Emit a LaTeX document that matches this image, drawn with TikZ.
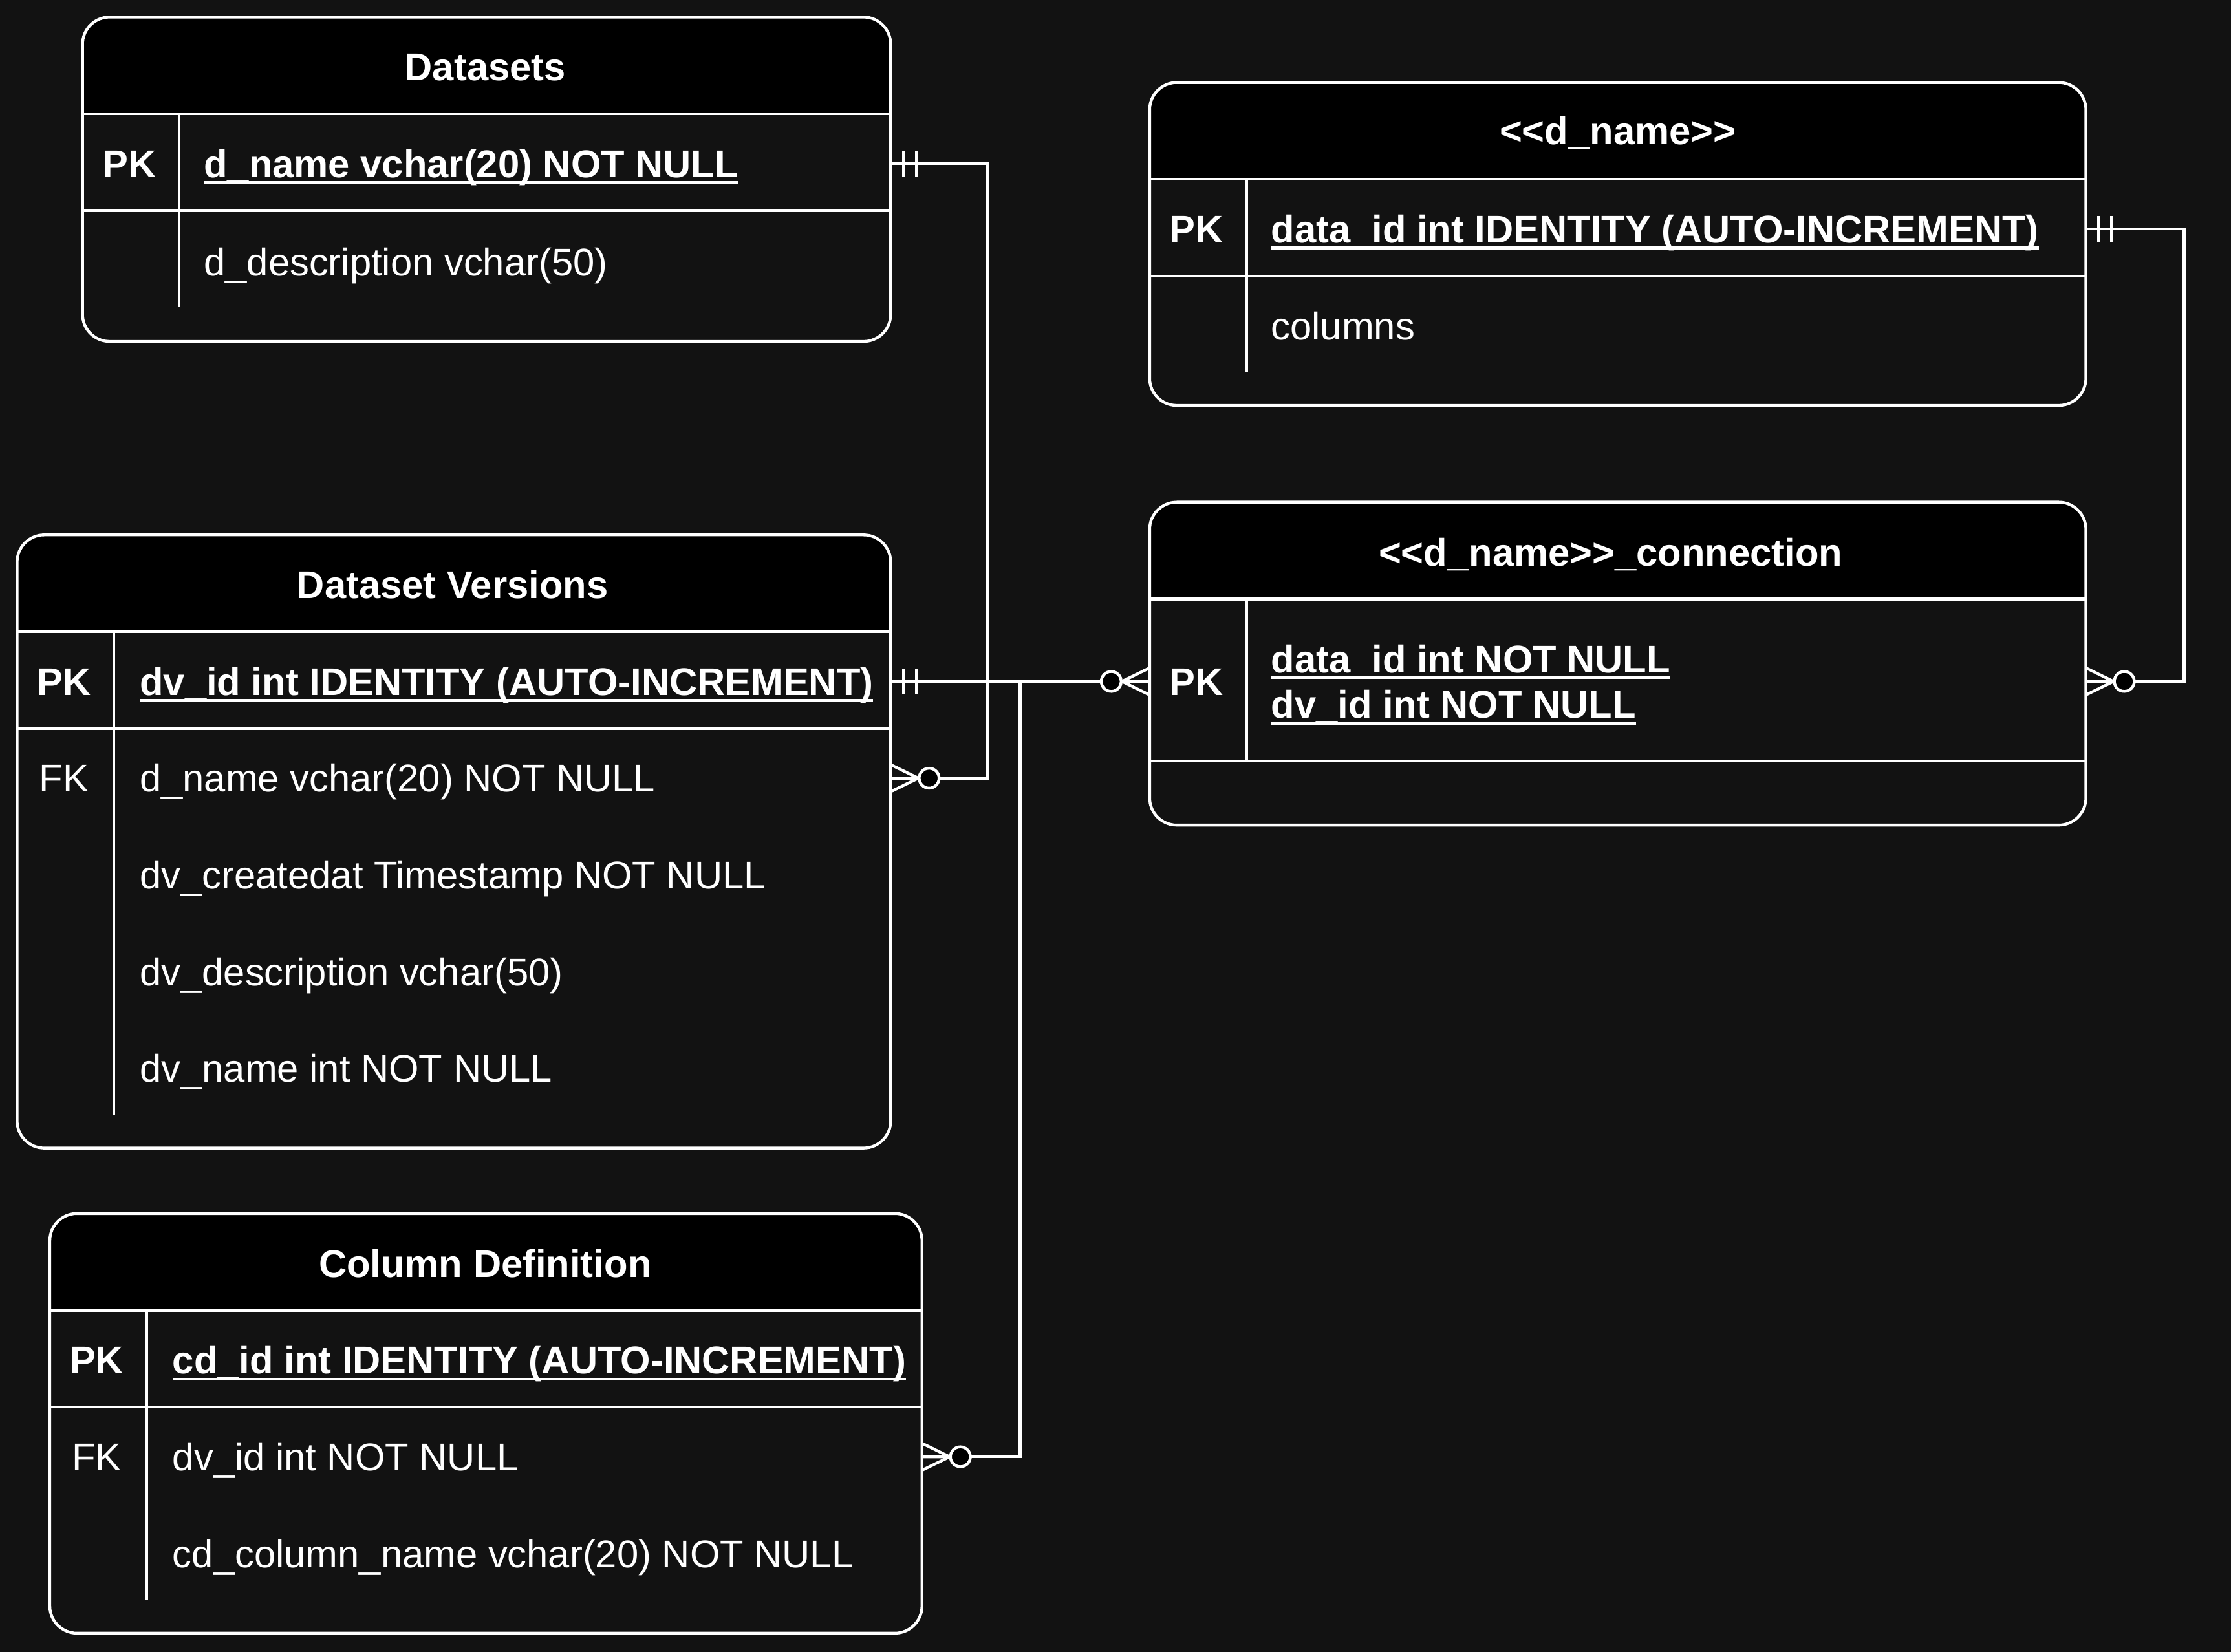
\documentclass[tikz,border=0pt]{standalone}
\usepackage{fontspec}
\setmainfont{Liberation Sans}
\usetikzlibrary{fit}

\definecolor{canvas}{RGB}{18,18,18}

% Schriftgroesse fuer alle Texte
\newcommand{\erfont}{\fontsize{17}{20}\selectfont}

% unterstrichener Schluessel (ganze Breite)
\newlength\ulwidth
\newcommand{\keyfield}[1]{%
  \settowidth{\ulwidth}{#1}%
  \rlap{\rule[-0.17em]{\ulwidth}{0.075em}}#1}

\tikzset{
  erbox/.style = {
    draw=white, fill=canvas, line width=1.25pt,
    rounded corners=0.42cm, inner sep=0pt, outer sep=0pt,
    path picture={\fill[black, sharp corners]
      (path picture bounding box.north west)
      rectangle ([yshift=-1.496cm]path picture bounding box.north east);}
  },
  sepline/.style = {draw=white, line width=1.25pt},
  txt/.style = {text=white, inner sep=0pt, text height=12.2pt, text depth=0pt, font=\erfont},
  tabletitle/.style = {txt, font=\erfont\bfseries},
  keycol/.style = {txt},
  pkcol/.style = {txt, font=\erfont\bfseries},
  fieldtxt/.style = {txt, anchor=west},
  pkfield/.style = {fieldtxt, font=\erfont\bfseries},
  relation/.style = {draw=white, line width=1.25pt},
  mandone/.pic = {
    \draw[relation] (9,-9) -- (9,9) (18,-9) -- (18,9);
  },
  zeromany/.pic = {
    \draw[relation] (0,-9.5) -- (19.5,0) -- (0,9.5) (0,0) -- (19.5,0);
    \draw[relation, fill=black] (27,0) circle (7);
  }
}

\begin{document}
\begin{tikzpicture}[x=0.022cm, y=-0.022cm]
% Hintergrund
\fill[canvas] (0,0) rectangle (1568,1161);
\useasboundingbox (0,0) rectangle (1568,1161);

% Tabelle Datasets
\node[erbox, fit={(58,12) (626,240)}] (ds) {};
\draw[sepline] (58,80) -- (626,80) (58,148) -- (626,148);
\draw[sepline] (126,80) -- (126,216);
\node[tabletitle] (ds-title) at (341,47) {Datasets};
\node[pkcol] (ds-pk) at (91,115) {PK};
\node[pkfield] (ds-f1) at (143,115) {\keyfield{d\_name vchar(20) NOT NULL}};
\node[fieldtxt] (ds-f2) at (143,184) {d\_description vchar(50)};

% Tabelle <<d_name>>
\node[erbox, fit={(808,58) (1466,285)}] (dn) {};
\draw[sepline] (808,126) -- (1466,126) (808,194) -- (1466,194);
\draw[sepline] (876,126) -- (876,262);
\node[tabletitle] (dn-title) at (1137,92) {<\kern0pt<d\_name>\kern0pt>};
\node[pkcol] (dn-pk) at (841,161) {PK};
\node[pkfield] (dn-f1) at (893,161) {\keyfield{data\_id int IDENTITY (AUTO-INCREMENT)}};
\node[fieldtxt] (dn-f2) at (893,229) {columns};

% Tabelle Dataset Versions
\node[erbox, fit={(12,376) (626,807)}] (dv) {};
\draw[sepline] (12,444) -- (626,444) (12,512) -- (626,512);
\draw[sepline] (80,444) -- (80,784);
\node[tabletitle] (dv-title) at (318,411) {Dataset Versions};
\node[pkcol] (dv-pk) at (45,479) {PK};
\node[keycol] (dv-fk) at (45,547) {FK};
\node[pkfield] (dv-f1) at (98,479) {\keyfield{dv\_id int IDENTITY (AUTO-INCREMENT)}};
\node[fieldtxt] (dv-f2) at (98,547) {d\_name vchar(20) NOT NULL};
\node[fieldtxt] (dv-f3) at (98,615) {dv\_createdat Timestamp NOT NULL};
\node[fieldtxt] (dv-f4) at (98,683) {dv\_description vchar(50)};
\node[fieldtxt] (dv-f5) at (98,751) {dv\_name int NOT NULL};

% Tabelle <<d_name>>_connection
\node[erbox, fit={(808,353) (1466,580)}] (cn) {};
\draw[sepline] (808,421) -- (1466,421) (808,535) -- (1466,535);
\draw[sepline] (876,421) -- (876,535);
\node[tabletitle] (cn-title) at (1132,388) {<\kern0pt<d\_name>\kern0pt>\_connection};
\node[pkcol] (cn-pk) at (841,479) {PK};
\node[pkfield] (cn-f1) at (893,463) {\keyfield{data\_id int NOT NULL}};
\node[pkfield] (cn-f2) at (893,495) {\keyfield{dv\_id int NOT NULL}};

% Tabelle Column Definition
\node[erbox, fit={(35,853) (648,1148)}] (cd) {};
\draw[sepline] (35,921) -- (648,921) (35,989) -- (648,989);
\draw[sepline] (103,921) -- (103,1125);
\node[tabletitle] (cd-title) at (341,888) {Column Definition};
\node[pkcol] (cd-pk) at (68,956) {PK};
\node[keycol] (cd-fk) at (68,1024) {FK};
\node[pkfield] (cd-f1) at (121,956) {\keyfield{cd\_id int IDENTITY (AUTO-INCREMENT)}};
\node[fieldtxt] (cd-f2) at (121,1024) {dv\_id int NOT NULL};
\node[fieldtxt] (cd-f3) at (121,1092) {cd\_column\_name vchar(20) NOT NULL};

% Beziehungen
\draw[relation] (ds.east |- ds-pk) -- ++(68,0) |- (dv.east |- dv-fk);
\draw[relation] (dn.east |- dn-pk) -- ++(69,0) |- (cn.east |- cn-pk);
\draw[relation] (dv.east |- dv-pk) -- (cn.west |- cn-pk);
\draw[relation] (dv.east |- dv-pk) -- ++(91,0) |- (cd.east |- cd-fk);

% Kardinalitaeten
\path (ds.east |- ds-pk) pic {mandone};
\path (dv.east |- dv-fk) pic {zeromany};
\path (dn.east |- dn-pk) pic {mandone};
\path (cn.east |- cn-pk) pic {zeromany};
\path (dv.east |- dv-pk) pic {mandone};
\path (cn.west |- cn-pk) pic[rotate=180] {zeromany};
\path (cd.east |- cd-fk) pic {zeromany};
\end{tikzpicture}
\end{document}
